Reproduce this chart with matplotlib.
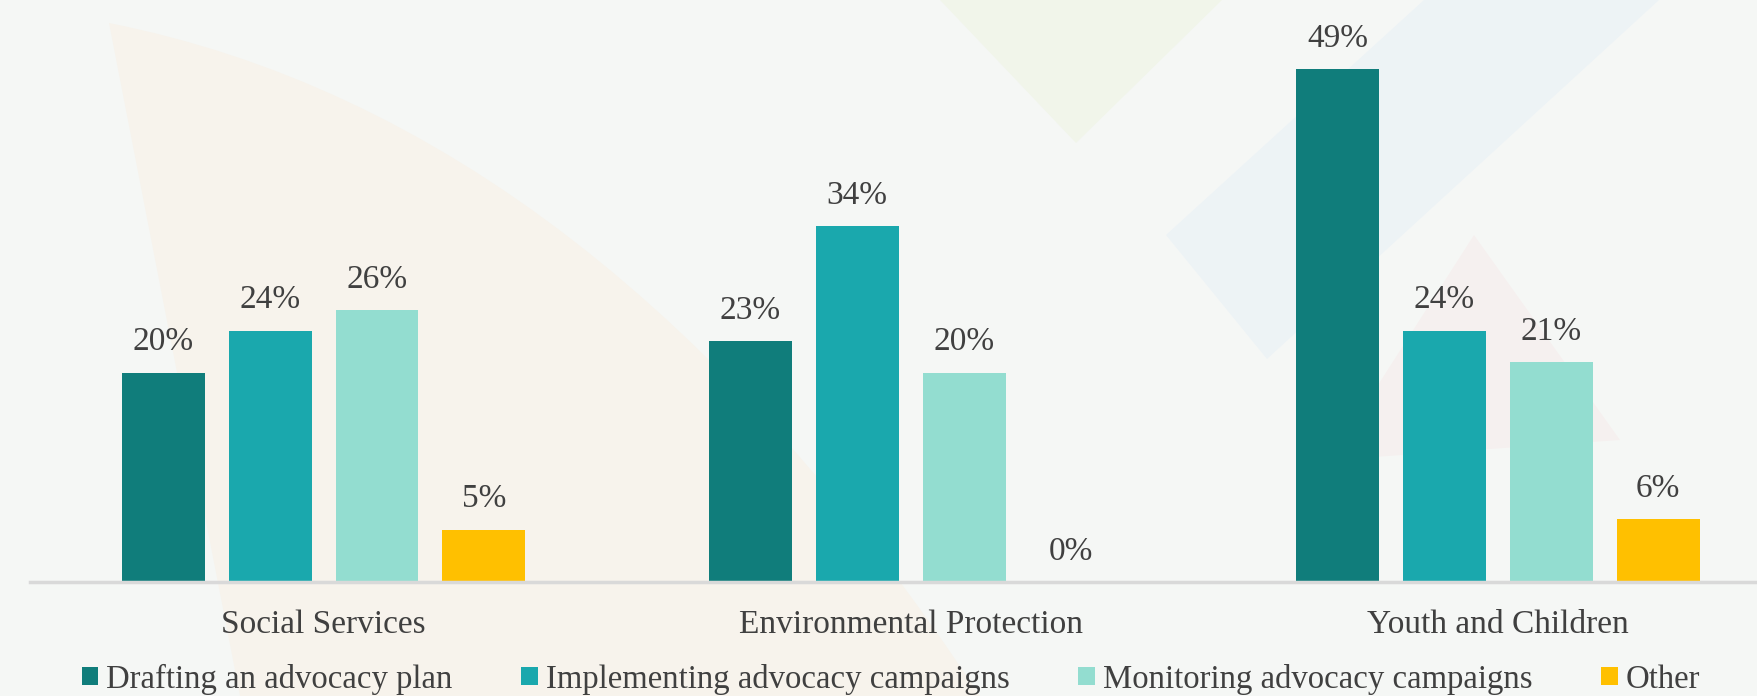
import matplotlib
matplotlib.use("Agg")
import matplotlib.pyplot as plt
from matplotlib.patches import Polygon, Patch, PathPatch
from matplotlib.path import Path
import numpy as np

categories = ["Social Services", "Environmental Protection", "Youth and Children"]
series_names = ["Drafting an advocacy plan", "Implementing advocacy campaigns",
                "Monitoring advocacy campaigns", "Other"]
drafting = [20, 23, 49]
implementing = [24, 34, 24]
monitoring = [26, 20, 21]
other = [5, 0, 6]
series_values = [drafting, implementing, monitoring, other]
colors = ["#107D7B", "#1AA8AD", "#93DDD0", "#FFC000"]

W, H = 1758, 696
fig = plt.figure(figsize=(W / 100, H / 100), dpi=100)
bg = "#F5F7F5"
fig.patch.set_facecolor(bg)

def px(pts):
    return [(x / W, 1 - y / H) for x, y in pts]

# faint decorative background shapes
wedge = Path(px([(109, 23), (600, 120), (980, 696), (240, 696), (109, 23)]),
             [Path.MOVETO, Path.CURVE3, Path.CURVE3, Path.LINETO, Path.CLOSEPOLY])
fig.patches.append(PathPatch(wedge, transform=fig.transFigure, facecolor="#F7F3EC",
                             edgecolor="none", zorder=-10))
shapes = [
    ([(940, 0), (1222, 0), (1076, 143)], "#F1F5EA"),
    ([(1424, 0), (1659, 0), (1267, 359), (1166, 235)], "#EDF3F5"),
    ([(1474, 235), (1330, 460), (1620, 440)], "#F5F0EF"),
]
for pts, c in shapes:
    fig.patches.append(Polygon(px(pts), closed=True, transform=fig.transFigure,
                               facecolor=c, edgecolor="none", zorder=-10))

font = "Liberation Serif"
tc = "#404040"

ax = fig.add_axes([30 / W, 114 / H, 1 - 30 / W, 1 - 114 / H])
ax.set_zorder(5)
ax.set_facecolor("none")
x = np.arange(len(categories))
width = 0.141
step = 0.182
offsets = [-1.5 * step, -0.5 * step, 0.5 * step, 1.5 * step]
for vals, off, c in zip(series_values, offsets, colors):
    bars = ax.bar(x + off, vals, width=width, color=c, zorder=2)
    for b, v in zip(bars, vals):
        ax.annotate(f"{v}%", (b.get_x() + b.get_width() / 2, v),
                    xytext=(0, 11), textcoords="offset points",
                    ha="center", va="bottom", fontsize=24, family=font, color=tc)

ax.set_xlim(-0.5, 2.443)
ax.set_ylim(0, 55.6)
for s in ["top", "right", "left"]:
    ax.spines[s].set_visible(False)
ax.spines["bottom"].set_color("#D9D9D9")
ax.spines["bottom"].set_linewidth(2.5)
ax.set_yticks([])
ax.set_xticks(x)
ax.set_xticklabels(categories, fontsize=24, family=font, color=tc)
ax.tick_params(axis="x", length=0, pad=20)

handles = [Patch(facecolor=c, edgecolor="none") for c in colors]
leg = fig.legend(handles, series_names, loc="center", bbox_to_anchor=(891 / W, 1 - 679 / H),
                 ncol=4, frameon=False, prop={"family": font, "size": 23.6},
                 handlelength=0.5, handleheight=0.5, handletextpad=0.25, columnspacing=2.1,
                 labelcolor=tc)
leg.set_zorder(6)

fig.savefig("out.png", dpi=100, facecolor=bg)
